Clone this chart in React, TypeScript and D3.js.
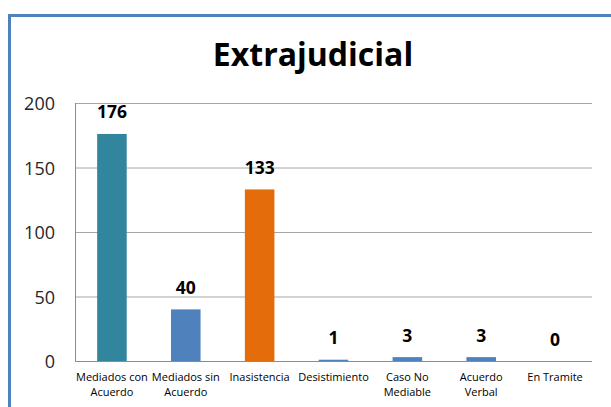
import React from "react";
import * as d3 from "d3";

const categories = [
  ["Mediados con", "Acuerdo"],
  ["Mediados sin", "Acuerdo"],
  ["Inasistencia"],
  ["Desistimiento"],
  ["Caso No", "Mediable"],
  ["Acuerdo", "Verbal"],
  ["En Tramite"],
];
const values = [176, 40, 133, 1, 3, 3, 0];
const colors = ["#31859c", "#4f81bd", "#e46c0a", "#4f81bd", "#4f81bd", "#4f81bd", "#4f81bd"];
const yTicks = [0, 50, 100, 150, 200];

const W = 611;
const H = 407;
const plot = { left: 75, right: 592, top: 103, bottom: 361 };
const font = "'Open Sans', sans-serif";

export default function App() {
  const x = d3
    .scaleBand<number>()
    .domain(d3.range(values.length))
    .range([plot.left, plot.right])
    .paddingInner(0.6)
    .paddingOuter(0.3);
  const y = d3.scaleLinear().domain([0, 200]).range([plot.bottom, plot.top]);

  return (
    <svg
      width={W}
      height={H}
      style={{ position: "absolute", left: 0, top: 0, background: "#fff" }}
      fontFamily={font}
    >
      <rect x={0} y={0} width={W} height={H} fill="#fff" />
      <rect x={9.5} y={15.5} width={W + 20} height={H + 20} fill="none" stroke="#4f81bd" strokeWidth={3} />
      <text x={313} y={66} textAnchor="middle" fontSize={32} fontWeight="bold" fill="#000">
        Extrajudicial
      </text>
      {yTicks.map((t) => (
        <g key={t}>
          {t > 0 && (
            <line x1={plot.left} x2={plot.right} y1={y(t) + 0.5} y2={y(t) + 0.5} stroke="#a6a6a6" strokeWidth={1} />
          )}
          <text x={55} y={y(t) + 7} textAnchor="end" fontSize={18} fill="#262626">
            {t}
          </text>
        </g>
      ))}
      <line x1={plot.left + 0.5} x2={plot.left + 0.5} y1={plot.top} y2={plot.bottom} stroke="#8c8c8c" />
      {values.map((v, i) => (
        <g key={i}>
          <rect x={x(i)} y={y(v)} width={x.bandwidth()} height={plot.bottom - y(v)} fill={colors[i]} />
          <text
            x={(x(i) as number) + x.bandwidth() / 2}
            y={y(v) - 15.5}
            textAnchor="middle"
            fontSize={17.5}
            fontWeight="bold"
            fill="#000"
          >
            {v}
          </text>
          {categories[i].map((line, j) => (
            <text
              key={j}
              x={(x(i) as number) + x.bandwidth() / 2}
              y={381 + j * 15}
              textAnchor="middle"
              fontSize={11}
              fill="#000"
            >
              {line}
            </text>
          ))}
        </g>
      ))}
      <line x1={plot.left} x2={plot.right} y1={plot.bottom + 0.5} y2={plot.bottom + 0.5} stroke="#8c8c8c" />
    </svg>
  );
}
